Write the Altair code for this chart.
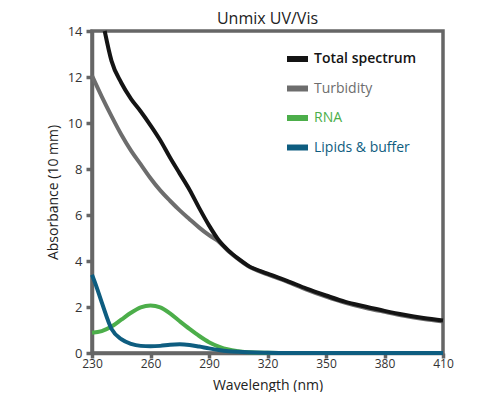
import altair as alt
import pandas as pd

# ---- data ----
series_names = ["Total spectrum", "Turbidity", "RNA", "Lipids & buffer"]
series_colors = ["#141414", "#6d6d6d", "#4cae4a", "#0e5d80"]

total_wl = [236.5, 240, 245, 250, 255, 260, 265, 270, 275, 280, 285, 290, 295, 300,
            305, 310, 320, 330, 340, 350, 360, 370, 380, 390, 400, 410]
total_abs = [14.0, 12.7, 11.75, 11.05, 10.5, 9.9, 9.25, 8.5, 7.8, 7.1, 6.3, 5.55, 4.9, 4.45,
             4.1, 3.8, 3.45, 3.14, 2.8, 2.5, 2.22, 2.02, 1.83, 1.66, 1.52, 1.41]

turb_wl = [230, 235, 240, 245, 250, 255, 260, 265, 270, 275, 280, 285, 290, 295, 300,
           305, 310, 320, 330, 340, 350, 360, 370, 380, 390, 400, 410]
turb_abs = [12.06, 11.15, 10.3, 9.5, 8.8, 8.2, 7.6, 7.07, 6.62, 6.2, 5.82, 5.45, 5.12, 4.84, 4.42,
            4.08, 3.78, 3.42, 3.1, 2.76, 2.45, 2.18, 1.97, 1.79, 1.62, 1.48, 1.37]

rna_wl = [230, 235, 240, 245, 250, 255, 260, 265, 270, 275, 280, 285, 290, 295, 300,
          305, 310, 320, 330, 350, 380, 410]
rna_abs = [0.88, 0.95, 1.15, 1.45, 1.75, 1.98, 2.06, 1.98, 1.72, 1.38, 1.05, 0.74, 0.47, 0.28, 0.15,
           0.08, 0.03, 0.01, 0.0, 0.0, 0.0, 0.0]

lip_wl = [230, 232, 235, 240, 245, 250, 255, 260, 265, 270, 275, 280, 285, 290, 295, 300,
          305, 310, 320, 330, 350, 380, 410]
lip_abs = [3.4, 2.95, 2.2, 1.05, 0.6, 0.4, 0.31, 0.29, 0.31, 0.36, 0.38, 0.35, 0.28, 0.2, 0.13, 0.08,
           0.05, 0.03, 0.01, 0.0, 0.0, 0.0, 0.0]

x_ticks = [230, 260, 290, 320, 350, 380, 410]
y_ticks = [0, 2, 4, 6, 8, 10, 12, 14]

FONT = "Open Sans"

def frame(name, wl, ab):
    return pd.DataFrame({"wl": wl, "abs": ab, "series": name})

dfs = {
    "Total spectrum": frame("Total spectrum", total_wl, total_abs),
    "Turbidity": frame("Turbidity", turb_wl, turb_abs),
    "RNA": frame("RNA", rna_wl, rna_abs),
    "Lipids & buffer": frame("Lipids & buffer", lip_wl, lip_abs),
}

label_color_expr = (
    "datum.label == 'Total spectrum' ? '#141414' : "
    "datum.label == 'Turbidity' ? '#6d6d6d' : "
    "datum.label == 'RNA' ? '#4cae4a' : '#0e5d80'"
)

x_enc = alt.X("wl:Q",
              scale=alt.Scale(domain=[230, 410], nice=False, zero=False),
              axis=alt.Axis(values=x_ticks, title="Wavelength (nm)",
                            titleBaseline="alphabetic", titleY=36,
                            labelPadding=0, labelFontSize=12, tickSize=5,
                            titleFontSize=14, labelFlush=False))
y_enc = alt.Y("abs:Q",
              scale=alt.Scale(domain=[0, 14], nice=False),
              axis=alt.Axis(values=y_ticks, title="Absorbance (10 mm)", titlePadding=7,
                            labelPadding=4, labelFontSize=13, tickSize=6,
                            titleFontSize=14))
color_enc = alt.Color("series:N",
                      scale=alt.Scale(domain=series_names, range=series_colors),
                      legend=alt.Legend(orient="none", legendX=192, legendY=14.5,
                                        title=None, symbolType="stroke",
                                        symbolSize=441, symbolStrokeWidth=6,
                                        labelFontSize=14, labelOffset=3, rowPadding=3.5,
                                        labelColor={"expr": label_color_expr},
                                        labelFontWeight={"expr": "datum.label == 'Total spectrum' ? 600 : 400"}))

def layer(name):
    return alt.Chart(dfs[name]).mark_line(strokeWidth=4, interpolate="monotone").encode(
        x=x_enc, y=y_enc, color=color_enc)

chart = alt.layer(
    layer("RNA"), layer("Lipids & buffer"), layer("Turbidity"), layer("Total spectrum")
).properties(
    width=351, height=322,
    title=alt.TitleParams("Unmix UV/Vis", fontSize=16, fontWeight=500, color="#222222",
                          font=FONT, anchor="middle", frame="group", offset=-4),
    autosize=alt.AutoSizeParams(type="none"),
    padding={"left": 84, "top": 23, "right": 45, "bottom": 39},
).configure_view(
    stroke="#666666", strokeWidth=3.5
).configure_axis(
    grid=False, domainColor="#666666", domainWidth=3.5,
    tickColor="#666666", tickWidth=3.5,
    labelColor="#333333", labelFont=FONT,
    titleColor="#222222", titleFont=FONT, titleFontWeight=500
).configure_legend(
    labelFont=FONT
)

chart.save("out.html", embed_options={"renderer": "svg", "actions": False})
